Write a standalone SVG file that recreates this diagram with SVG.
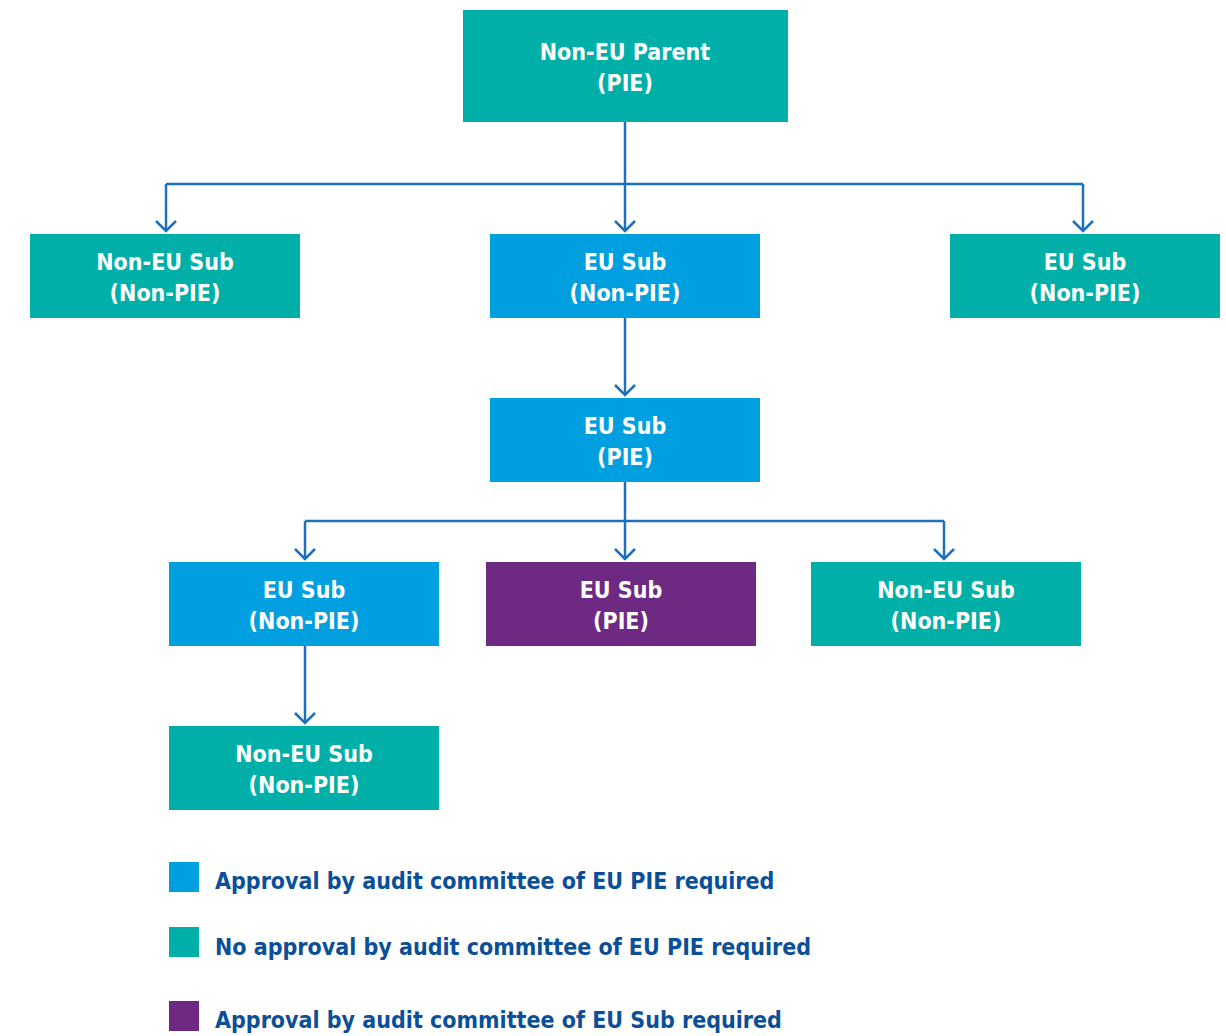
<svg xmlns="http://www.w3.org/2000/svg" width="1226" height="1036" viewBox="0 0 1226 1036">
<defs>
<style>
.teal{fill:#00B0A8}
.blue{fill:#009FDF}
.purple{fill:#6E2A82}
.lbl{font-family:"DejaVu Sans Condensed","Liberation Sans",sans-serif;font-weight:bold;font-size:23px;fill:#FFFFFF;text-anchor:middle}
.leg{font-family:"DejaVu Sans Condensed","Liberation Sans",sans-serif;font-weight:bold;font-size:23px;fill:#0B4F98}
.con{fill:none;stroke:#1E70BA;stroke-width:2.5}
</style>
<marker id="arr" viewBox="0 0 14 24" refX="12" refY="12" markerWidth="14" markerHeight="24" markerUnits="userSpaceOnUse" orient="auto">
<path d="M2,2 L12,12 L2,22" fill="none" stroke="#1E70BA" stroke-width="2.5"/>
</marker>
</defs>
<g id="connectors">
<path class="con" d="M625,122 V184"/>
<path class="con" d="M166,184 H1083"/>
<path class="con" d="M166,184 V231" marker-end="url(#arr)"/>
<path class="con" d="M625,184 V231" marker-end="url(#arr)"/>
<path class="con" d="M1083,184 V231" marker-end="url(#arr)"/>
<path class="con" d="M625,318 V395" marker-end="url(#arr)"/>
<path class="con" d="M625,482 V559" marker-end="url(#arr)"/>
<path class="con" d="M305,521 H944"/>
<path class="con" d="M305,521 V559" marker-end="url(#arr)"/>
<path class="con" d="M944,521 V559" marker-end="url(#arr)"/>
<path class="con" d="M305,646 V723" marker-end="url(#arr)"/>
</g>
<g id="parent"><rect class="teal" x="463" y="10" width="325" height="112"/><text class="lbl" x="625" y="60">Non-EU Parent</text><text class="lbl" x="625" y="91">(PIE)</text></g>
<g id="nonEuSub1"><rect class="teal" x="30" y="234" width="270" height="84"/><text class="lbl" x="165" y="270">Non-EU Sub</text><text class="lbl" x="165" y="301">(Non-PIE)</text></g>
<g id="euSub1"><rect class="blue" x="490" y="234" width="270" height="84"/><text class="lbl" x="625" y="270">EU Sub</text><text class="lbl" x="625" y="301">(Non-PIE)</text></g>
<g id="euSub2"><rect class="teal" x="950" y="234" width="270" height="84"/><text class="lbl" x="1085" y="270">EU Sub</text><text class="lbl" x="1085" y="301">(Non-PIE)</text></g>
<g id="euSubPie"><rect class="blue" x="490" y="398" width="270" height="84"/><text class="lbl" x="625" y="434">EU Sub</text><text class="lbl" x="625" y="465">(PIE)</text></g>
<g id="euSub3"><rect class="blue" x="169" y="562" width="270" height="84"/><text class="lbl" x="304" y="598">EU Sub</text><text class="lbl" x="304" y="629">(Non-PIE)</text></g>
<g id="euSubPie2"><rect class="purple" x="486" y="562" width="270" height="84"/><text class="lbl" x="621" y="598">EU Sub</text><text class="lbl" x="621" y="629">(PIE)</text></g>
<g id="nonEuSub2"><rect class="teal" x="811" y="562" width="270" height="84"/><text class="lbl" x="946" y="598">Non-EU Sub</text><text class="lbl" x="946" y="629">(Non-PIE)</text></g>
<g id="nonEuSub3"><rect class="teal" x="169" y="726" width="270" height="84"/><text class="lbl" x="304" y="762">Non-EU Sub</text><text class="lbl" x="304" y="793">(Non-PIE)</text></g>
<g id="legend">
<rect class="blue" x="169" y="862" width="30" height="30"/><text class="leg" x="215" y="889">Approval by audit committee of EU PIE required</text>
<rect class="teal" x="169" y="927" width="30" height="30"/><text class="leg" x="215" y="955">No approval by audit committee of EU PIE required</text>
<rect class="purple" x="169" y="1001" width="30" height="30"/><text class="leg" x="215" y="1028">Approval by audit committee of EU Sub required</text>
</g>
</svg>
